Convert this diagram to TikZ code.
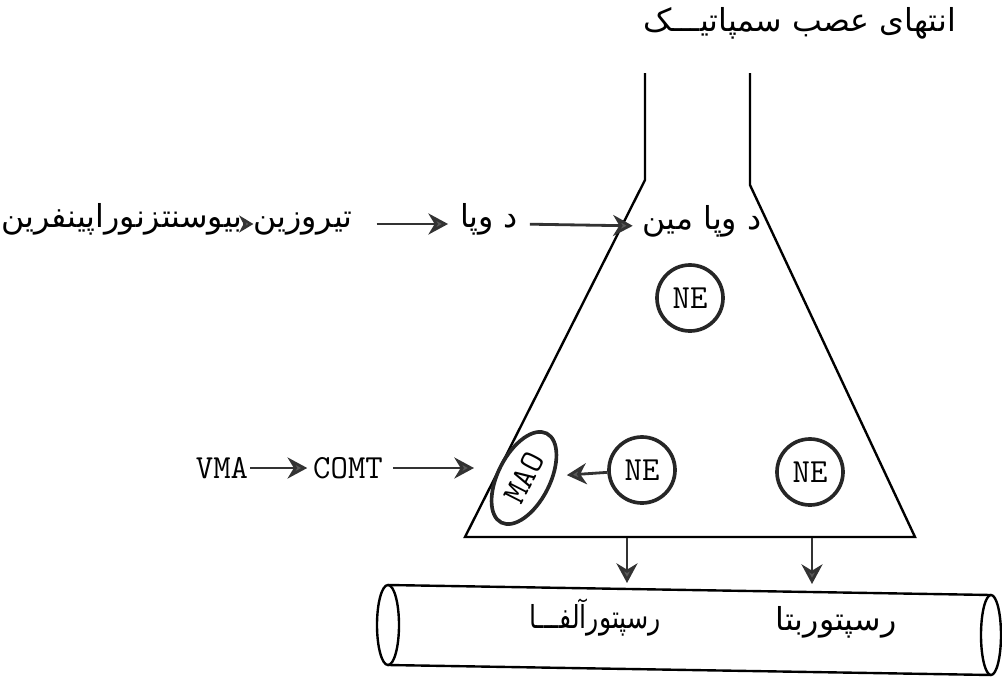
\documentclass[tikz,border=0pt]{standalone}
\usepackage{fontspec}
\usepackage{graphicx}
\usetikzlibrary{arrows.meta,shapes.geometric}
\newfontfamily\fafont[Script=Arabic]{DejaVu Sans}
\TeXXeTstate=1
\newlength\toplen
\newcommand{\fasz}{\fontsize{\fasize pt}{\fasize pt}\selectfont}
\newcommand{\latsz}{\fontsize{24pt}{24pt}\selectfont\ttfamily}
\begin{document}
\settowidth\toplen{\fafont\beginR انتهای عصب سمپاتیـــک\endR}%
\pgfmathsetmacro\fasize{10*312*0.71131/\toplen}%
\begin{tikzpicture}[x=0.025cm,y=-0.025cm,
  lbl/.style={inner sep=0pt, outer sep=0pt, anchor=mid},
  latlbl/.style={inner sep=0pt, outer sep=0pt, anchor=center},
  arr/.style={draw=black!80, line width=2pt, -{Stealth[length=14pt,width=15pt,inset=4.5pt,fill=black!65]}},
  smallarr/.style={draw=black!80, line width=2pt, -{Stealth[length=10pt,width=12pt,inset=3pt,fill=black!65]}},
  shell/.style={draw=black, line width=1.7pt, line join=miter},
  necirc/.style={circle, draw=black!85, line width=2.6pt, minimum size=1.65cm, inner sep=0pt}]
\useasboundingbox (0,0) rectangle (1002,678);

% nerve ending outline
\draw[shell] (645,73) -- (645,180) -- (465,537) -- (915,537) -- (750,185) -- (750,73);

% receptor cylinder
\draw[shell] (388,585) -- (991,595);
\draw[shell] (388,665) -- (991,675);
\draw[shell] (388,625) ellipse [x radius=11, y radius=40];
\draw[shell] (991,635) ellipse [x radius=10, y radius=40];

% texts
\node[lbl] (top) at (800,28) {\fasz\fafont\beginR انتهای عصب سمپاتیـــک\endR};
\node[lbl] (bios) at (122,224) {\fasz\fafont\beginR بیوسنتزنوراپینفرین\endR};
\node[lbl] (tyr) at (303,224) {\fasz\fafont\beginR تیروزین\endR};
\node[lbl] (dopa) at (489,224) {\fasz\fafont\beginR د وپا\endR};
\node[lbl] (dopamine) at (702,226) {\fasz\fafont\beginR د وپا مین\endR};
\node[lbl] (alpha) at (595,625) {\scalebox{0.8}[1]{\fasz\fafont\beginR رسپتورآلفـــا\endR}};
\node[lbl] (beta) at (836,627) {\fasz\fafont\beginR رسپتوربتا\endR};

\node[necirc] (ne1) at (690,298) {\latsz NE};
\node[necirc] (ne2) at (642,470) {\latsz NE};
\node[necirc] (ne3) at (810,472) {\latsz NE};
\node[ellipse, draw=black!85, line width=2.6pt, rotate=63, minimum width=2.5cm, minimum height=1.3cm, inner sep=0pt] (mao) at (524,478) {\latsz MAO};

\node[latlbl] (vma) at (222,468) {\latsz VMA};
\node[latlbl] (comt) at (348,468) {\latsz COMT};
\coordinate (maoin) at (474,468);

% connectors
\draw[smallarr] (bios.mid east) -- (tyr.mid west);
\draw[arr, shorten <=0.6cm, shorten >=0.3cm] (tyr.mid east) -- (dopa.mid west);
\draw[arr, shorten <=0.3cm, shorten >=0.25cm] (dopa.mid east) -- (dopamine.mid west);
\draw[arr, shorten <=0.05cm, shorten >=0.15cm] (vma.east) -- (comt.west);
\draw[arr, shorten <=0.25cm] (comt.east) -- (maoin);
\draw[arr, shorten >=0.3cm] (ne2) -- (mao);

\coordinate (d1s) at (627,538);
\coordinate (d1e) at (627,583);
\coordinate (d2s) at (812,538);
\coordinate (d2e) at (812,584);
\draw[arr] (d1s) -- (d1e);
\draw[arr] (d2s) -- (d2e);
\end{tikzpicture}
\end{document}
